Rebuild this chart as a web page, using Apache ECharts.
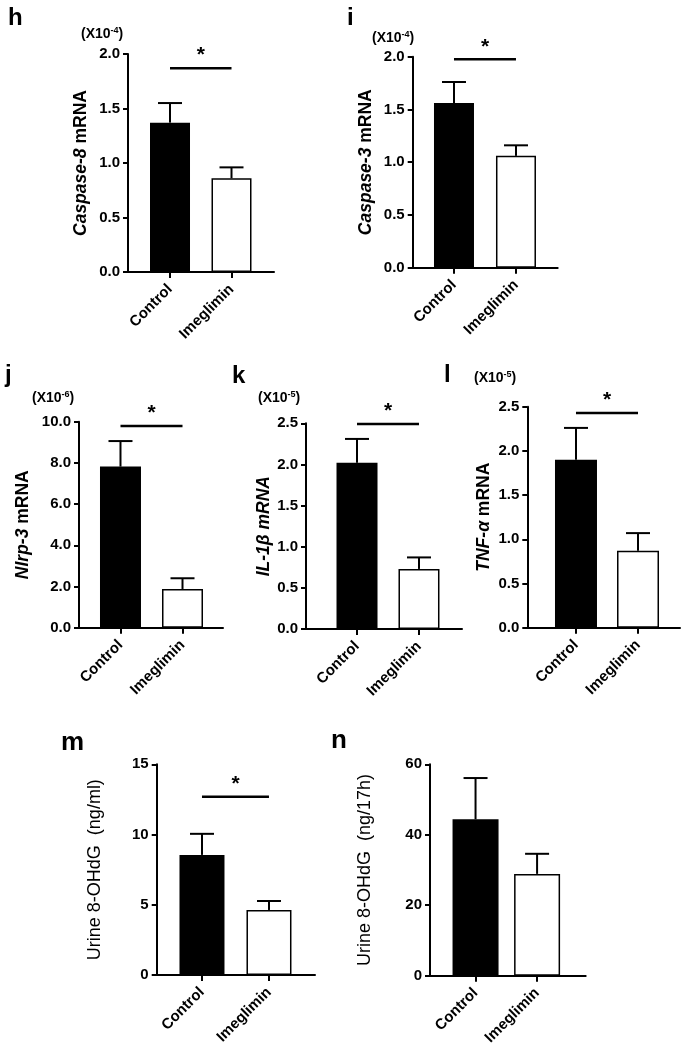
<!DOCTYPE html>
<html><head><meta charset="utf-8">
<script src="https://cdn.jsdelivr.net/npm/echarts@6/dist/echarts.min.js"></script>
<style>html,body{margin:0;padding:0;background:#fff}#c{width:685px;height:1064px}</style>
</head><body><div id="c"></div>
<script>
// ---------------- data ----------------
const categories = ['Control', 'Imeglimin'];
const panelLetters = ['h', 'i', 'j', 'k', 'l', 'm', 'n'];

const caspase8Mean = [1.37, 0.86];  const caspase8Err = [0.18, 0.10];
const caspase3Mean = [1.56, 1.06];  const caspase3Err = [0.20, 0.10];
const nlrp3Mean    = [7.82, 1.88];  const nlrp3Err    = [1.24, 0.52];
const il1bMean     = [2.02, 0.73];  const il1bErr     = [0.29, 0.14];
const tnfaMean     = [1.90, 0.87];  const tnfaErr     = [0.36, 0.20];
const ohdgMlMean   = [8.55, 4.63];  const ohdgMlErr   = [1.50, 0.64];
const ohdg17hMean  = [44.4, 28.9];  const ohdg17hErr  = [11.7, 5.7];

const yMaxValues   = [2, 2, 10, 2.5, 2.5, 15, 60];
const yIntervals   = [0.5, 0.5, 2, 0.5, 0.5, 5, 20];
const yDecimals    = [1, 1, 1, 1, 1, 0, 0];
const sigLevels    = [1.87, 1.975, 9.79, 2.49, 2.43, 12.69, null];
const multipliers  = ['-4', '-4', '-6', '-5', '-5', null, null];
const yTitles = [
  '{i|Caspase-8} mRNA',
  '{i|Caspase-3} mRNA',
  '{i|Nlrp-3} mRNA',
  '{i|IL-1β mRNA}',
  '{i|TNF-α} mRNA',
  'Urine 8-OHdG  (ng/ml)',
  'Urine 8-OHdG  (ng/17h)'
];

const means = [caspase8Mean, caspase3Mean, nlrp3Mean, il1bMean, tnfaMean, ohdgMlMean, ohdg17hMean];
const errs  = [caspase8Err, caspase3Err, nlrp3Err, il1bErr, tnfaErr, ohdgMlErr, ohdg17hErr];

// ---------------- layout ----------------
const gridLeft   = [128, 412.7, 79, 306, 527.3, 156.7, 430];
const gridRight  = [274, 557.7, 223, 462, 680, 315, 585.7];
const gridTop    = [54, 56.7, 421.7, 423.3, 406.7, 764.3, 764.3];
const gridBottom = [272, 267.7, 627.7, 629, 627.7, 975, 975.7];
const xMins      = [-0.683, -0.666, -0.669, -0.823, -0.785, -0.676, -0.74];
const xMaxs      = [1.691, 1.673, 1.653, 1.694, 1.677, 1.687, 1.79];
const barWidths  = [40, 40, 41, 41, 42, 45, 46];
const nameGaps   = [38, 38, 47, 24, 34, 53, 56];
const titleBold  = [true, true, true, true, true, false, false];
const letterPos  = [[8, 6], [347, 6], [5, 363], [232, 364], [444, 363], [61, 730], [331, 728]];
const multPos    = [[81, 26], [372, 30], [32, 390], [258, 390], [474, 370]];

const FONT = 'Arial, "Liberation Sans", sans-serif';

const grids = [], xAxes = [], yAxes = [], series = [], graphics = [];

function errRender(params, api) {
  const x = api.value(0), m = api.value(1), e = api.value(2);
  const p0 = api.coord([x, m]);
  const p1 = api.coord([x, m + e]);
  const half = 12;
  return {
    type: 'group', children: [
      { type: 'line', shape: { x1: p0[0], y1: p0[1], x2: p1[0], y2: p1[1] }, style: { stroke: '#000', lineWidth: 2 } },
      { type: 'line', shape: { x1: p1[0] - half, y1: p1[1], x2: p1[0] + half, y2: p1[1] }, style: { stroke: '#000', lineWidth: 2 } }
    ]
  };
}
function sigRender(params, api) {
  const a = api.coord([api.value(0), api.value(2)]);
  const b = api.coord([api.value(1), api.value(2)]);
  return {
    type: 'group', children: [
      { type: 'line', shape: { x1: a[0], y1: a[1], x2: b[0], y2: b[1] }, style: { stroke: '#000', lineWidth: 2.5 } },
      { type: 'text', x: (a[0] + b[0]) / 2, y: a[1] - 2, style: { text: '*', fontSize: 21, fontWeight: 'bold', fontFamily: FONT, align: 'center', verticalAlign: 'bottom', fill: '#000' } }
    ]
  };
}

for (let p = 0; p < 7; p++) {
  grids.push({ left: gridLeft[p], width: gridRight[p] - gridLeft[p], top: gridTop[p], height: gridBottom[p] - gridTop[p], containLabel: false });
  xAxes.push({
    gridIndex: p, type: 'value', min: xMins[p], max: xMaxs[p],
    axisLine: { show: true, onZero: false, lineStyle: { color: '#000', width: 2 } },
    splitLine: { show: false },
    axisTick: { show: true, customValues: [0, 1], length: 6, lineStyle: { color: '#000', width: 2 } },
    axisLabel: {
      show: true, customValues: [0, 1], rotate: 45, margin: 15,
      formatter: v => categories[Math.round(v)],
      color: '#000', fontSize: 15, fontWeight: 'bold', fontFamily: FONT
    }
  });
  const dec = yDecimals[p];
  yAxes.push({
    gridIndex: p, type: 'value', min: 0, max: yMaxValues[p], interval: yIntervals[p],
    name: yTitles[p], nameLocation: 'middle', nameGap: nameGaps[p],
    nameTextStyle: {
      color: '#000', fontSize: titleBold[p] ? 17.5 : 18, fontWeight: titleBold[p] ? 'bold' : 'normal', fontFamily: FONT,
      rich: { i: { fontStyle: 'italic', fontSize: 17.5, fontWeight: 'bold', fontFamily: FONT, color: '#000' } }
    },
    axisLine: { show: true, onZero: false, lineStyle: { color: '#000', width: 2 } },
    axisTick: { show: true, length: 5, lineStyle: { color: '#000', width: 2 } },
    splitLine: { show: false },
    axisLabel: { color: '#000', fontSize: 15, fontWeight: 'bold', fontFamily: FONT, margin: 8, formatter: v => v.toFixed(dec) }
  });
  series.push({
    type: 'bar', xAxisIndex: p, yAxisIndex: p, barWidth: barWidths[p], z: 2,
    data: means[p].map((v, k) => ({
      value: [k, v],
      itemStyle: k === 0 ? { color: '#000', borderColor: '#000', borderWidth: 1.5 } : { color: '#fff', borderColor: '#000', borderWidth: 1.5 }
    }))
  });
  series.push({
    type: 'custom', xAxisIndex: p, yAxisIndex: p, z: 3, clip: false, renderItem: errRender,
    data: means[p].map((v, k) => [k, v, errs[p][k]])
  });
  if (sigLevels[p] !== null) {
    series.push({
      type: 'custom', xAxisIndex: p, yAxisIndex: p, z: 3, clip: false, renderItem: sigRender,
      data: [[0, 1, sigLevels[p]]]
    });
  }
  graphics.push({
    type: 'text', left: letterPos[p][0], top: letterPos[p][1],
    style: { text: panelLetters[p], fontSize: p >= 5 ? 26 : 24, fontWeight: 'bold', fontFamily: FONT, fill: '#000' }
  });
  if (multipliers[p] !== null) {
    graphics.push({
      type: 'text', left: multPos[p][0], top: multPos[p][1],
      style: {
        text: '(X10{s|' + multipliers[p] + '})', fontSize: 14, fontWeight: 'bold', fontFamily: FONT, fill: '#000',
        rich: { s: { fontSize: 9, fontWeight: 'bold', fontFamily: FONT, verticalAlign: 'top', padding: [0, 0, 7, 0] } }
      }
    });
  }
}

const chart = echarts.init(document.getElementById('c'), null, { renderer: 'canvas' });
chart.setOption({
  animation: false,
  backgroundColor: '#fff',
  grid: grids, xAxis: xAxes, yAxis: yAxes, series: series, graphic: graphics
});
</script></body></html>
